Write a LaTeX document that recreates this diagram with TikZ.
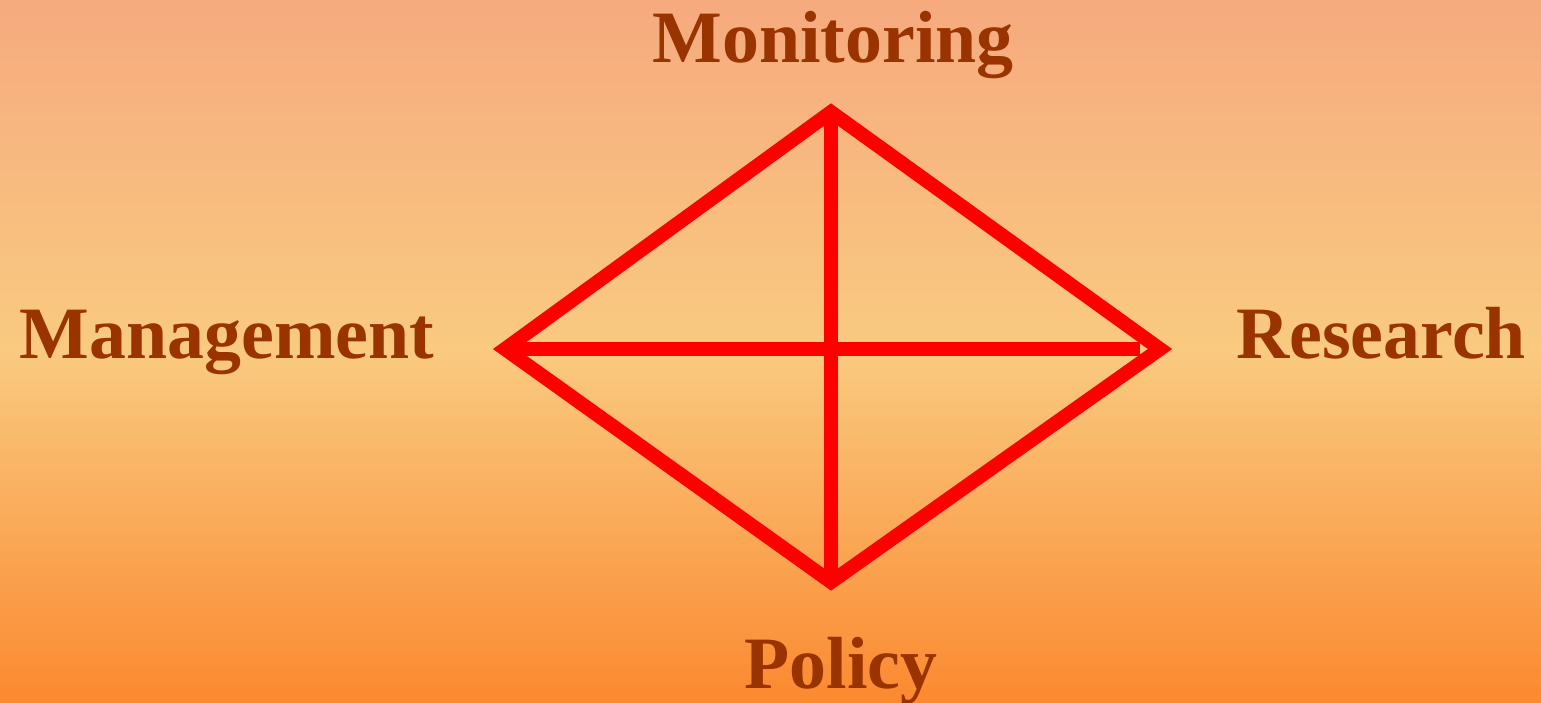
\documentclass[tikz,border=0pt]{standalone}
\usepackage{fontspec}
\setmainfont{Liberation Serif}
\usepackage{tikz}
\definecolor{bgtop}{RGB}{246,170,126}
\definecolor{bgmid}{RGB}{249,202,128}
\definecolor{bgbot}{RGB}{251,137,48}
\definecolor{termbrown}{HTML}{993300}
\tikzstyle{term} = [text=termbrown, font=\fontsize{21}{25}\selectfont\bfseries, inner sep=0pt, anchor=base]
\tikzstyle{edge} = [line width=4pt, draw=red, line join=miter]

\begin{document}
\begin{tikzpicture}[x=0.01cm, y=-0.01cm]
                        \shade[top color=bgtop, bottom color=bgbot, middle color=bgmid] (0,0) rectangle (1541,702);
                        \useasboundingbox (0,0) rectangle (1541,702);

                        \node (1) [term] at (833,62) {Monitoring};
                        \node (2) [term] at (227,358) {Management};
                        \node (3) [term] at (1381,358) {Research};
                        \node (4) [term] at (841,688) {Policy};

                        \coordinate (t) at (831,112);
                        \coordinate (l) at (505,349);
                        \coordinate (r) at (1160,349);
                        \coordinate (b) at (831,582);
                        \coordinate (h) at (1140,349);

                        \draw[edge] (t) -- (r) -- (b) -- (l) -- cycle;
                        \draw[edge] (t) -- (b);
                        \draw[edge] (l) -- (h);

                    \end{tikzpicture}
\end{document}
